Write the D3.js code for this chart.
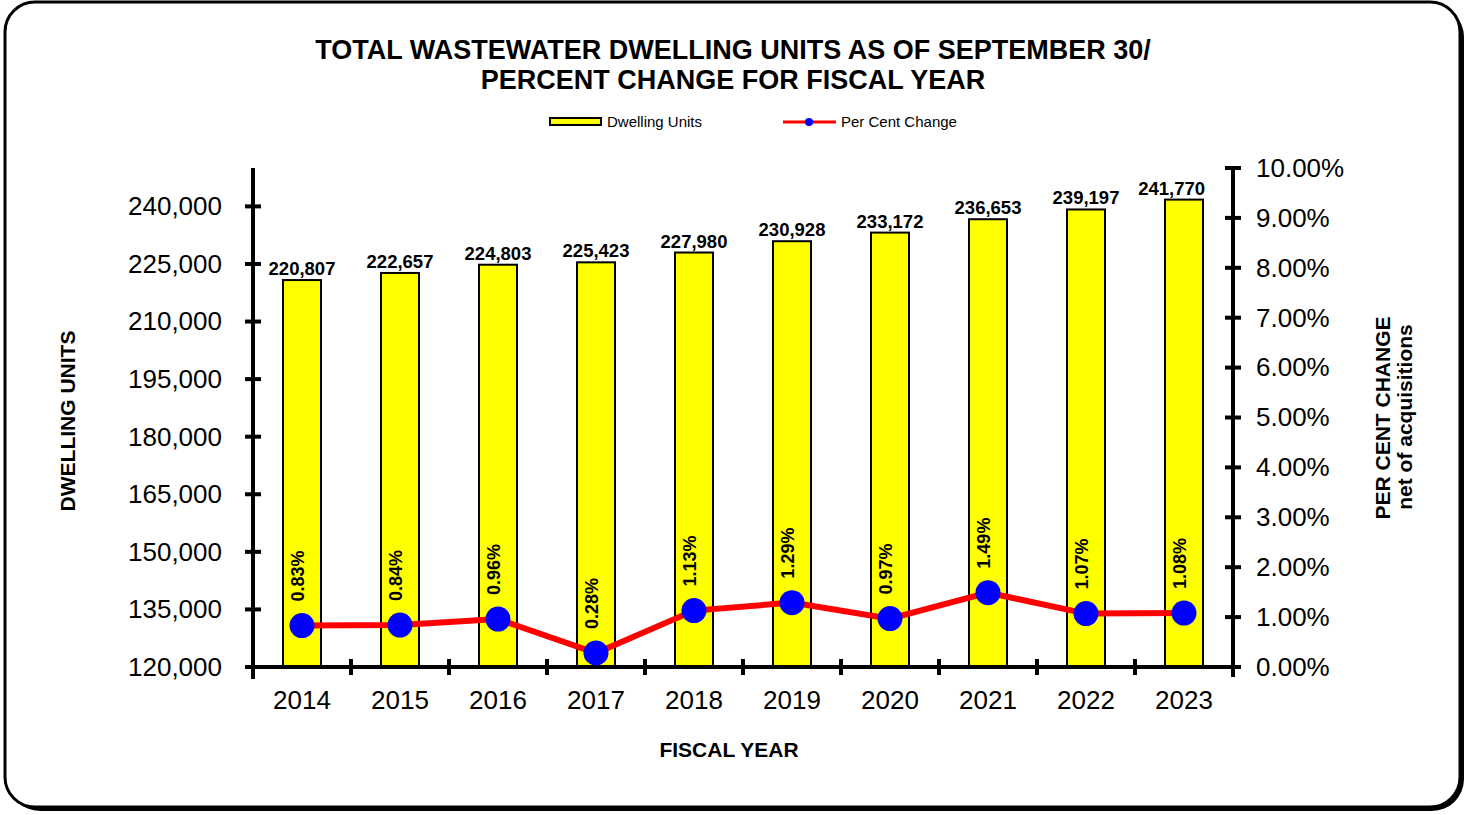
<!DOCTYPE html>
<html><head><meta charset="utf-8">
<script src="https://cdn.jsdelivr.net/npm/d3@7"></script>
<style>body{margin:0;background:#fff;font-family:"Liberation Sans",Arial,sans-serif;}</style>
</head><body><svg id="c" width="1468" height="815"></svg>
<script>
const years = ["2014","2015","2016","2017","2018","2019","2020","2021","2022","2023"];
const dwellingUnits = [220807,222657,224803,225423,227980,230928,233172,236653,239197,241770];
const pctChange = [0.83,0.84,0.96,0.28,1.13,1.29,0.97,1.49,1.07,1.08];
const leftTicks = [120000,135000,150000,165000,180000,195000,210000,225000,240000];
const rightTicks = [0,1,2,3,4,5,6,7,8,9,10];

const svg = d3.select("#c");
const F = '"Liberation Sans",Arial,sans-serif';
// border with shadow
svg.append("rect").attr("x",8).attr("y",5).attr("width",1456).attr("height",806).attr("rx",32).attr("fill","#000");
svg.append("rect").attr("x",5).attr("y",2).attr("width",1455).attr("height",805).attr("rx",30).attr("fill","#fff").attr("stroke","#000").attr("stroke-width",3);

const L=253,R=1233,T=168,B=667;
const x = d3.scaleBand().domain(years).range([L,R]);
const yL = d3.scaleLinear().domain([120000,250000]).range([B,T]);
const yR = d3.scaleLinear().domain([0,10]).range([B,T]);

// title
svg.append("text").attr("x",733).attr("y",59).attr("text-anchor","middle").attr("font-family",F).attr("font-weight","bold").attr("font-size",27).text("TOTAL WASTEWATER DWELLING UNITS AS OF SEPTEMBER 30/");
svg.append("text").attr("x",733).attr("y",89).attr("text-anchor","middle").attr("font-family",F).attr("font-weight","bold").attr("font-size",27).text("PERCENT CHANGE FOR FISCAL YEAR");

// legend
svg.append("rect").attr("x",550).attr("y",118).attr("width",51).attr("height",7).attr("fill","#ffff00").attr("stroke","#000").attr("stroke-width",2);
svg.append("text").attr("x",607).attr("y",127).attr("font-family",F).attr("font-size",15).text("Dwelling Units");
svg.append("line").attr("x1",783).attr("x2",836).attr("y1",122).attr("y2",122).attr("stroke","#ff0000").attr("stroke-width",3);
svg.append("circle").attr("cx",809).attr("cy",122).attr("r",4).attr("fill","#0000ff");
svg.append("text").attr("x",841).attr("y",127).attr("font-family",F).attr("font-size",15).text("Per Cent Change");

// bars
svg.selectAll(".bar").data(dwellingUnits).enter().append("rect")
  .attr("x",(d,i)=>x(years[i])+x.bandwidth()/2-19).attr("width",38)
  .attr("y",d=>yL(d)).attr("height",d=>B-yL(d))
  .attr("fill","#ffff00").attr("stroke","#000").attr("stroke-width",2);
svg.selectAll(".bl").data(dwellingUnits).enter().append("text")
  .attr("x",(d,i)=>x(years[i])+x.bandwidth()/2).attr("y",d=>yL(d)-5)
  .attr("text-anchor","middle").attr("font-family",F).attr("font-weight","bold").attr("font-size",18.5)
  .text(d=>d3.format(",")(d))
  .each(function(){
    const bb=this.getBBox(); const lim=R-28;
    if(bb.x+bb.width>lim){ d3.select(this).attr("x",+d3.select(this).attr("x")-(bb.x+bb.width-lim)); }
  });

// axes
const axL = svg.append("g").attr("transform",`translate(${L},0)`)
  .call(d3.axisLeft(yL).tickValues(leftTicks).tickFormat(d3.format(",")).tickSize(0).tickPadding(31));
const axR = svg.append("g").attr("transform",`translate(${R},0)`)
  .call(d3.axisRight(yR).tickValues(rightTicks).tickFormat(d=>d.toFixed(2)+"%").tickSize(0).tickPadding(23));
const axB = svg.append("g").attr("transform",`translate(0,${B})`)
  .call(d3.axisBottom(x).tickSize(0).tickPadding(24));
[axL,axR,axB].forEach(a=>{a.select(".domain").remove();a.selectAll("text").attr("font-family",F).attr("font-size",26).attr("fill","#000");});
axB.selectAll("text").attr("dy","0.71em");
// axis lines
svg.append("line").attr("x1",L).attr("x2",L).attr("y1",T).attr("y2",B+12).attr("stroke","#000").attr("stroke-width",4);
svg.append("line").attr("x1",R).attr("x2",R).attr("y1",T).attr("y2",B+10).attr("stroke","#000").attr("stroke-width",4);
svg.append("line").attr("x1",L-8).attr("x2",R+8).attr("y1",B).attr("y2",B).attr("stroke","#000").attr("stroke-width",4);
// tick marks
leftTicks.forEach(t=>svg.append("line").attr("x1",L-8).attr("x2",L+8).attr("y1",yL(t)).attr("y2",yL(t)).attr("stroke","#000").attr("stroke-width",4));
rightTicks.forEach(t=>svg.append("line").attr("x1",R-8).attr("x2",R+8).attr("y1",yR(t)).attr("y2",yR(t)).attr("stroke","#000").attr("stroke-width",4));
years.slice(1).forEach(yv=>svg.append("line").attr("x1",x(yv)).attr("x2",x(yv)).attr("y1",B-8).attr("y2",B+8).attr("stroke","#000").attr("stroke-width",4));

// line
const line = d3.line().x((d,i)=>x(years[i])+x.bandwidth()/2).y(d=>yR(d));
svg.append("path").datum(pctChange).attr("d",line).attr("fill","none").attr("stroke","#ff0000").attr("stroke-width",6);
svg.selectAll(".pt").data(pctChange).enter().append("circle")
  .attr("cx",(d,i)=>x(years[i])+x.bandwidth()/2).attr("cy",d=>yR(d)).attr("r",12.5).attr("fill","#0000ff");
svg.selectAll(".pl").data(pctChange).enter().append("text")
  .attr("transform",(d,i)=>`translate(${x(years[i])+x.bandwidth()/2+2},${yR(d)-24}) rotate(-90)`)
  .attr("font-family",F).attr("font-weight","bold").attr("font-size",18)
  .text(d=>d.toFixed(2)+"%");

// axis titles
svg.append("text").attr("transform","translate(75,421) rotate(-90)").attr("text-anchor","middle").attr("font-family",F).attr("font-weight","bold").attr("font-size",21).text("DWELLING UNITS");
svg.append("text").attr("transform","translate(1390,418) rotate(-90)").attr("text-anchor","middle").attr("font-family",F).attr("font-weight","bold").attr("font-size",21).text("PER CENT CHANGE");
svg.append("text").attr("transform","translate(1412,417) rotate(-90)").attr("text-anchor","middle").attr("font-family",F).attr("font-weight","bold").attr("font-size",21).text("net of acquisitions");
svg.append("text").attr("x",729).attr("y",757).attr("text-anchor","middle").attr("font-family",F).attr("font-weight","bold").attr("font-size",21).text("FISCAL YEAR");
</script></body></html>
